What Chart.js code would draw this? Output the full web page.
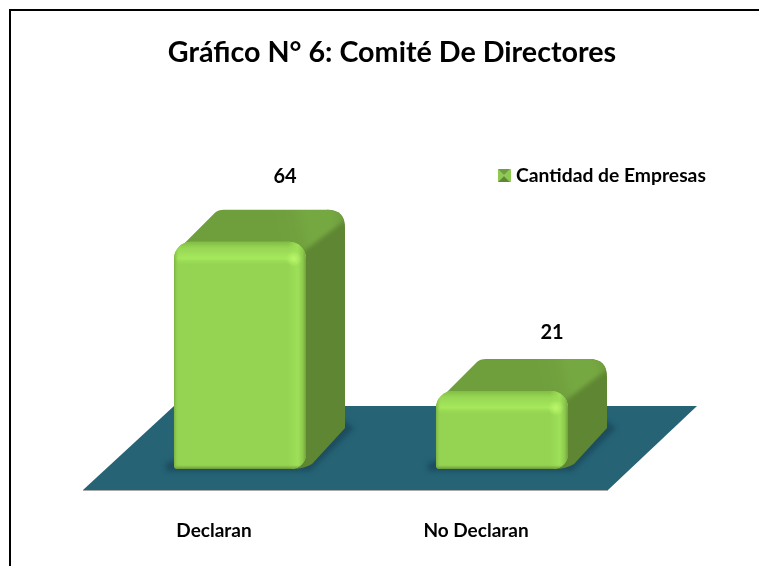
<!DOCTYPE html>
<html><head><meta charset="utf-8">
<style>html,body{margin:0;padding:0;background:#fff}#w{width:759px;height:566px;position:relative}</style>
<script src="https://cdn.jsdelivr.net/npm/chart.js@4/dist/chart.umd.js"></script>
</head><body><div id="w"><canvas id="c" width="759" height="566"></canvas></div>
<script>
const categories = ['Declaran', 'No Declaran'];
const seriesName = 'Cantidad de Empresas';
const seriesValues = [64, 21];
const chartTitle = 'Gráfico N° 6: Comité De Directores';

const FONT = 'Lato, sans-serif';
const DEPTH = {dx: 39, dy: 32, bdy: 41};

function marker() {
  const c = document.createElement('canvas'); c.width = 13; c.height = 13;
  const x = c.getContext('2d');
  const tri = (col, p) => { x.fillStyle = col; x.beginPath(); x.moveTo(p[0],p[1]); x.lineTo(p[2],p[3]); x.lineTo(6.5,6.5); x.closePath(); x.fill(); };
  tri('#6f9e3d',[0,0,13,0]); tri('#5f8733',[0,13,13,13]); tri('#8ccb4e',[0,0,0,13]); tri('#8ccb4e',[13,0,13,13]);
  return c;
}

const scene = {
  id: 'scene',
  afterLayout(chart) {
    const l = chart.legend;
    l.left = 496.65; l.right = 759; l.top = 161; l.bottom = 205;
    chart.titleBlock.left = 0; chart.titleBlock.right = 784;
  },
  beforeDraw(chart) {
    const {ctx} = chart;
    ctx.save();
    ctx.fillStyle = '#000';
    ctx.fillRect(9, 9, 750, 2);
    ctx.fillRect(9, 9, 2, 557);
    ctx.restore();
  },
  beforeDatasetsDraw(chart) {
    const {ctx, chartArea: a} = chart;
    ctx.save();
    // floor
    ctx.fillStyle = '#256375';
    ctx.beginPath();
    ctx.moveTo(a.left - 26, a.bottom + 21);
    ctx.lineTo(a.right - 25, a.bottom + 21);
    ctx.lineTo(a.right + 64, a.bottom - 63);
    ctx.lineTo(a.left + 65, a.bottom - 63);
    ctx.closePath(); ctx.fill();
    ctx.fillStyle = '#a9a9a9';
    ctx.fillRect(a.left - 26, a.bottom + 21, a.right - a.left + 1, 1);
    chart.getDatasetMeta(0).data.forEach(b => {
      const p = b.getProps(['x','y','base','width'], true);
      const L = p.x - p.width/2, R = p.x + p.width/2, T = p.y, B = p.base;
      // shadow
      ctx.save();
      ctx.filter = 'blur(2.5px)';
      ctx.fillStyle = '#1d4c5f';
      ctx.beginPath();
      ctx.moveTo(L - 8, B - 6); ctx.lineTo(L - 8, B + 2); ctx.lineTo(R + 4, B + 2);
      ctx.lineTo(R + DEPTH.dx + 9, B - DEPTH.bdy); ctx.lineTo(R + DEPTH.dx - 2, B - DEPTH.bdy - 8); ctx.closePath();
      ctx.fill();
      ctx.restore();
      const bx = R + DEPTH.dx, ty = T - DEPTH.dy;
      // side face
      ctx.fillStyle = '#5f8733';
      ctx.beginPath();
      ctx.moveTo(R - 14, B);
      ctx.quadraticCurveTo(R - 2, B, R + 6, B - 5);
      ctx.lineTo(bx, B - DEPTH.bdy);
      ctx.lineTo(bx, ty + 18);
      ctx.quadraticCurveTo(bx, ty, bx - 18, ty);
      ctx.lineTo(R - 14, T); ctx.closePath();
      ctx.fill();
      // top face
      ctx.save();
      ctx.beginPath();
      ctx.moveTo(L + 1, T + 30); ctx.lineTo(L + 1, T + 17);
      ctx.quadraticCurveTo(L + 1, T + 10, L + 6, T + 6);
      ctx.lineTo(L + 41, ty + 3);
      ctx.quadraticCurveTo(L + 44, ty, L + 50, ty);
      ctx.lineTo(bx - 18, ty);
      ctx.quadraticCurveTo(bx, ty, bx, ty + 18);
      ctx.lineTo(R + 20, T + 40); ctx.lineTo(L + 1, T + 40);
      ctx.closePath(); ctx.clip();
      const g = ctx.createLinearGradient(R - 30, T, bx + 2, ty + 14);
      g.addColorStop(0, '#6f9e3d'); g.addColorStop(.35, '#71a23e'); g.addColorStop(.5, '#76a842'); g.addColorStop(.8, '#76a842'); g.addColorStop(1, '#6f9e3d');
      ctx.fillStyle = g;
      ctx.filter = 'blur(2px)';
      ctx.beginPath();
      ctx.moveTo(L - 20, T + 20);
      ctx.lineTo(L - 20, ty - 20);
      ctx.lineTo(bx + 20, ty - 20);
      ctx.lineTo(bx + 20, ty - 6);
      ctx.lineTo(bx - 2, ty + 12);
      ctx.lineTo(R - 3, T + 10);
      ctx.lineTo(R - 10, T + 20);
      ctx.closePath(); ctx.fill();
      ctx.restore();
    });
    ctx.restore();
  },
  afterDatasetsDraw(chart) {
    const {ctx} = chart;
    const opts = chart.options.plugins.scene;
    chart.getDatasetMeta(0).data.forEach((b, i) => {
      const p = b.getProps(['x','y','base','width'], true);
      const L = p.x - p.width/2, R = p.x + p.width/2, T = p.y, B = p.base, W = R - L;
      ctx.save();
      ctx.beginPath();
      ctx.roundRect(L, T, W, B - T, [17, 17, 15, 4]);
      ctx.clip();
      let g = ctx.createLinearGradient(0, T, 0, T + 24);
      g.addColorStop(0, 'rgba(130,188,68,1)');
      g.addColorStop(.25, 'rgba(150,214,84,1)');
      g.addColorStop(.7, 'rgba(166,232,92,1)');
      g.addColorStop(1, 'rgba(148,212,82,0)');
      ctx.fillStyle = g; ctx.fillRect(L, T, W, 24);
      g = ctx.createLinearGradient(R - 18, 0, R, 0);
      g.addColorStop(0, 'rgba(158,224,88,0)');
      g.addColorStop(.55, 'rgba(158,224,88,1)');
      g.addColorStop(.82, 'rgba(140,200,76,1)');
      g.addColorStop(1, 'rgba(112,162,60,1)');
      ctx.fillStyle = g; ctx.fillRect(R - 18, T, 18, B - T);
      g = ctx.createLinearGradient(L, 0, L + 5, 0);
      g.addColorStop(0, 'rgba(125,178,66,1)');
      g.addColorStop(1, 'rgba(148,212,82,0)');
      ctx.fillStyle = g; ctx.fillRect(L, T, 5, B - T);
      g = ctx.createLinearGradient(0, B - 4, 0, B);
      g.addColorStop(0, 'rgba(120,170,64,0)');
      g.addColorStop(1, 'rgba(105,150,58,1)');
      ctx.fillStyle = g; ctx.fillRect(L, B - 4, W, 4);
      g = ctx.createRadialGradient(R - 12, T + 17, 0, R - 12, T + 17, 8);
      g.addColorStop(0, 'rgba(186,248,106,1)');
      g.addColorStop(1, 'rgba(186,248,106,0)');
      ctx.fillStyle = g; ctx.fillRect(R - 22, T + 7, 20, 20);
      ctx.restore();
      // value label
      ctx.save();
      ctx.fillStyle = '#000';
      ctx.font = 'bold ' + opts.labelSize + 'px ' + FONT;
      ctx.textAlign = 'center'; ctx.textBaseline = 'middle';
      ctx.fillText(String(seriesValues[i]), p.x + opts.labelDx[i], p.y + opts.labelDy[i]);
      ctx.restore();
    });
  }
};

new Chart(document.getElementById('c'), {
  type: 'bar',
  data: {
    labels: categories,
    datasets: [{
      label: seriesName,
      data: seriesValues,
      base: -1.5,
      backgroundColor: '#94d452',
      borderWidth: 0,
      borderSkipped: false,
      borderRadius: {topLeft: 17, topRight: 17, bottomLeft: 4, bottomRight: 15},
      barPercentage: 0.504,
      categoryPercentage: 1
    }]
  },
  plugins: [scene],
  options: {
    responsive: false,
    animation: false,
    devicePixelRatio: 1,
    layout: {padding: {left: 109, right: 126, top: 0, bottom: 0}},
    scales: {
      x: {
        offset: true,
        grid: {display: false, drawTicks: false},
        border: {display: false},
        afterFit(s) { s.height = 97; },
        ticks: {
          color: '#000', padding: 50, labelOffset: -26, maxRotation: 0,
          font: {family: FONT, size: 19, weight: 'bold'}
        }
      },
      y: {display: false, min: -1.5, max: 70}
    },
    plugins: {
      scene: {labelDx: [45, 50], labelDy: [-65, -58], labelSize: 20},
      tooltip: {enabled: false},
      title: {
        display: true, text: chartTitle, color: '#000',
        font: {family: FONT, size: 28.7, weight: 'bold', lineHeight: 1},
        padding: {top: 38.65, bottom: 153.65}
      },
      legend: {
        display: true, position: 'chartArea', align: 'start',
        labels: {
          usePointStyle: true, pointStyle: marker(), pointStyleWidth: 4.7, boxWidth: 13, boxHeight: 13, padding: 5,
          color: '#000', font: {family: FONT, size: 19.3, weight: 'bold'}
        }
      }
    }
  }
});
</script></body></html>
